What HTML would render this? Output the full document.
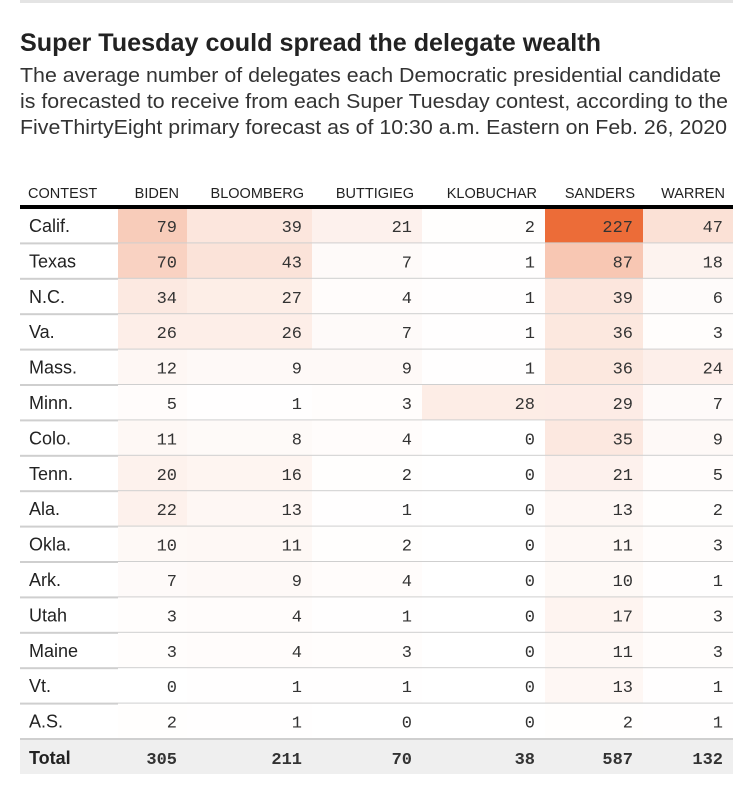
<!DOCTYPE html>
<html><head><meta charset="utf-8">
<style>
html,body{margin:0;padding:0;background:#fff;}
svg{display:block;}
.ttl{font-family:"Liberation Sans Narrow","Liberation Sans",sans-serif;font-weight:bold;fill:#222;}
.sub{font-family:"Liberation Sans Narrow","Liberation Sans",sans-serif;fill:#333;}
.hdr{font-family:"Liberation Sans Narrow","Liberation Sans",sans-serif;font-size:14.5px;fill:#222;}
.nm{font-family:"Liberation Sans Narrow","Liberation Sans",sans-serif;font-size:18px;fill:#222;}
.num{font-family:"Liberation Mono",monospace;font-size:17px;fill:#333;}
</style></head>
<body>
<svg id="chart" width="750" height="791" viewBox="0 0 750 791">
<rect x="20" y="0" width="713" height="3" fill="#e4e4e4"/>
<text class="ttl" x="20" y="51" font-size="25" textLength="581" lengthAdjust="spacingAndGlyphs">Super Tuesday could spread the delegate wealth</text>
<text class="sub" x="20" y="82" font-size="20" textLength="701" lengthAdjust="spacingAndGlyphs">The average number of delegates each Democratic presidential candidate</text>
<text class="sub" x="20" y="108" font-size="20" textLength="708" lengthAdjust="spacingAndGlyphs">is forecasted to receive from each Super Tuesday contest, according to the</text>
<text class="sub" x="20" y="134" font-size="20" textLength="707" lengthAdjust="spacingAndGlyphs">FiveThirtyEight primary forecast as of 10:30 a.m. Eastern on Feb. 26, 2020</text>
<g id="tbl"></g>
</svg>
<script>
const contests = ["Calif.","Texas","N.C.","Va.","Mass.","Minn.","Colo.","Tenn.","Ala.","Okla.","Ark.","Utah","Maine","Vt.","A.S."];
const candidates = ["BIDEN","BLOOMBERG","BUTTIGIEG","KLOBUCHAR","SANDERS","WARREN"];
const biden =     [79,70,34,26,12,5,11,20,22,10,7,3,3,0,2];
const bloomberg = [39,43,27,26,9,1,8,16,13,11,9,4,4,1,1];
const buttigieg = [21,7,4,7,9,3,4,2,1,2,4,1,3,1,0];
const klobuchar = [2,1,1,1,1,28,0,0,0,0,0,0,0,0,0];
const sanders =   [227,87,39,36,36,29,35,21,13,11,10,17,11,13,2];
const warren =    [47,18,6,3,24,7,9,5,2,3,1,3,3,1,1];
const totals =    [305,211,70,38,587,132];

const series = [biden,bloomberg,buttigieg,klobuchar,sanders,warren];
const colL = [118,187,312,422,545,643];
const colR = [187,312,422,545,643,733];
const top0 = 208, rowH = 35.4;
const NS = "http://www.w3.org/2000/svg";
const g = document.getElementById('tbl');
const maxV = Math.max(...series.flat());
function mk(tag, attrs){const e=document.createElementNS(NS,tag);for(const k in attrs)e.setAttribute(k,attrs[k]);g.appendChild(e);return e;}
function color(v){const t=v/maxV;const c=[236,108,56];return `rgb(${Math.round(255-(255-c[0])*t)},${Math.round(255-(255-c[1])*t)},${Math.round(255-(255-c[2])*t)})`;}

let h = mk('text',{x:28,y:198,class:'hdr'}); h.textContent='CONTEST';


candidates.forEach((c,j)=>{
  const t=mk('text',{x:colR[j]-8,y:198,class:'hdr','text-anchor':'end'});
  t.textContent=c;
  
  
});
contests.forEach((name,i)=>{
  const y=top0+i*rowH;
  series.forEach((s,j)=>{
    const r=mk('rect',{x:colL[j],y:y,width:colR[j]-colL[j],height:rowH,fill:color(s[i])});
    
    
  });
  const l=mk('rect',{x:20,y:y+rowH-1,width:713,height:2,fill:'#cfcfcf'});
  
  
  const n=mk('text',{x:29,y:y+24,class:'nm'}); n.textContent=name;
  
  
  series.forEach((s,j)=>{
    const t=mk('text',{x:colR[j]-10,y:y+24,class:'num','text-anchor':'end'});
    t.textContent=s[i];
    
    
  });
});
const hb=mk('rect',{x:20,y:top0-3,width:713,height:4,fill:'#000'});


const ty=top0+contests.length*rowH+1;
const tb=mk('rect',{x:20,y:ty,width:713,height:34,fill:'#efefef'});


const tl=mk('text',{x:29,y:ty+24,class:'nm','font-weight':'bold'}); tl.textContent='Total';


totals.forEach((v,j)=>{
  const t=mk('text',{x:colR[j]-10,y:ty+24,class:'num','text-anchor':'end','font-weight':'bold'});
  t.textContent=v;
  
  
});
</script>
</body></html>
